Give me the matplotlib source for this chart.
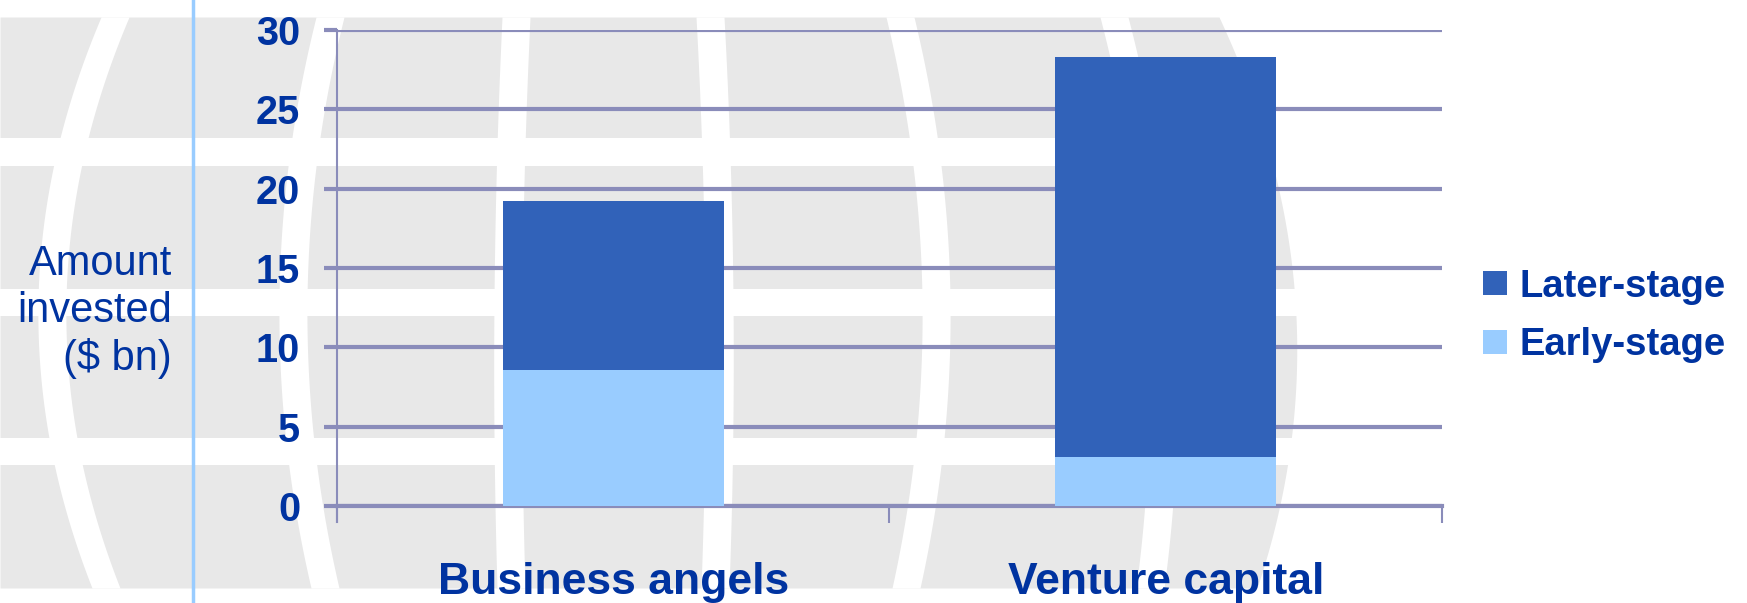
import numpy as np
import matplotlib
matplotlib.use("Agg")
import matplotlib.pyplot as plt

# datos del gráfico (miles de millones de $)
categorias = ["Business angels", "Venture capital"]
early_stage = [8.6, 3.1]
later_stage = [10.6, 25.2]
series = ["Early-stage", "Later-stage"]
yticks = [0, 5, 10, 15, 20, 25, 30]

azul_texto = "#0033A0"
azul_oscuro = "#3162B9"
azul_claro = "#99CCFF"
gris_grid = "#8A8CBA"

plt.rcParams["font.family"] = ["Liberation Sans", "DejaVu Sans"]

fig = plt.figure(figsize=(17.47, 6.03), dpi=100)
fig.patch.set_facecolor("white")

# fondo decorativo (globo gris)
bg = fig.add_axes([0, 0, 1, 1], zorder=-1)
bg.set_xlim(0, 1747)
bg.set_ylim(603, 0)
bg.axis("off")
yy = np.linspace(17, 588, 200)
borde = np.polyval(np.polyfit([17, 300, 588], [1219, 1295, 1257], 2), yy)
bg.fill_betweenx(yy, 0, borde, color="#E8E8E8", lw=0)
for y0, y1 in [(138, 166), (289, 316), (438, 465)]:
    bg.fill_between([0, 1747], y0, y1, color="white", lw=0)
meridianos = [(115, 52, 106), (330, 293, 325), (516, 508, 511),
              (710, 719, 715), (900, 936, 906), (1114, 1160, 1150)]
for m in meridianos:
    xm = np.polyval(np.polyfit([17, 300, 588], m, 2), yy)
    bg.fill_betweenx(yy, xm - 14, xm + 14, color="white", lw=0)
bg.plot([193, 193], [0, 603], color=azul_claro, lw=2.5)

# gráfico principal
ax = fig.add_axes([0.1929, 0.1609, 0.6325, 0.7893])
ax.set_facecolor("none")
x = np.arange(len(categorias))
b1 = ax.bar(x, early_stage, width=0.4, color=azul_claro, label=series[0], zorder=3)
b2 = ax.bar(x, later_stage, width=0.4, bottom=early_stage, color=azul_oscuro,
            label=series[1], zorder=3)

ax.set_xlim(-0.5, 1.5)
ax.set_ylim(0, 30)
ax.set_yticks(yticks)
ax.yaxis.grid(True, color=gris_grid, lw=3)
ax.set_axisbelow(True)
ax.tick_params(axis="y", length=9.5, width=3, color=gris_grid, pad=17,
               labelsize=28.5, labelcolor=azul_texto)
for t in ax.get_yticklabels():
    t.set_fontweight("bold")

ax.set_xticks(x)
ax.set_xticklabels(categorias, fontsize=32, fontweight="bold", color=azul_texto)
ax.tick_params(axis="x", length=0, pad=40)
ax.set_xticks([-0.5, 0.5, 1.5], minor=True)
ax.tick_params(axis="x", which="minor", length=12.5, width=1.5, color=gris_grid)

for s in ["top", "right"]:
    ax.spines[s].set_visible(False)
ax.spines["left"].set_color(gris_grid)
ax.spines["left"].set_linewidth(1.5)
ax.spines["bottom"].set_color(gris_grid)
ax.spines["bottom"].set_linewidth(3)
ax.spines["left"].set_bounds(-1.0, 30)

fig.text(0.0985, 0.483, "Amount\ninvested\n($ bn)", ha="right", va="center",
         fontsize=30, color=azul_texto, linespacing=1.22)

leg = fig.legend([b2, b1], [series[1], series[0]], loc="center left",
                 bbox_to_anchor=(0.849, 0.476), frameon=False, fontsize=27.5,
                 handlelength=0.62, handleheight=0.62, handletextpad=0.32,
                 labelspacing=0.6, borderpad=0, borderaxespad=0)
for t in leg.get_texts():
    t.set_color(azul_texto)
    t.set_fontweight("bold")

fig.savefig("out.png", dpi=100)
